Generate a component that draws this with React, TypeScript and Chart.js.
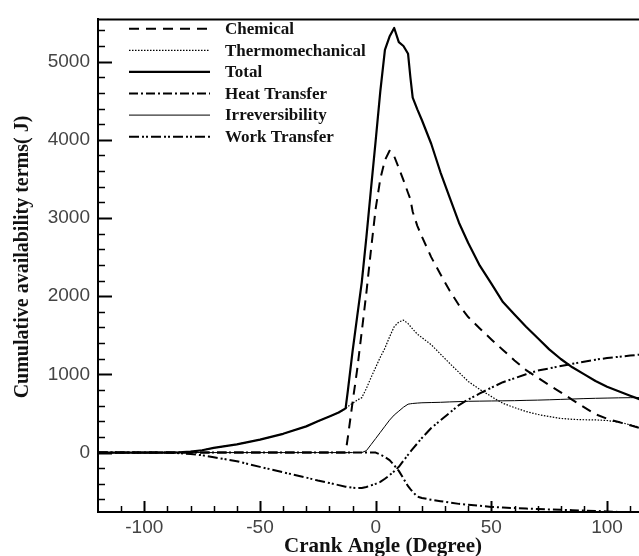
import React, { useEffect, useRef } from "react";
import { Chart, registerables } from "chart.js";

Chart.register(...registerables);

// Crank angle samples (degrees) shared by every series
const crankAngle = [
  -120, -100, -90, -85, -80, -75, -70, -60, -50, -40,
  -30, -25, -20, -16, -13, -12, -10, -8, -6, -4,
  -2, 0, 2, 4, 6, 8, 10, 12, 14, 15,
  16, 18, 20, 24, 28, 32, 36, 40, 45, 50,
  55, 60, 65, 70, 75, 80, 85, 90, 95, 100,
  105, 110, 114,
];

// Cumulative availability terms (J)
const chemical = [
  0, 0, 0, 0, 0, 0, 0, 0, 0, 0,
  0, 0, 0, 0, 0, 200, 640, 1060, 1550, 2050,
  2600, 3120, 3500, 3740, 3860, 3790, 3640, 3484, 3320, 3240,
  3080, 2900, 2760, 2500, 2280, 2070, 1885, 1733, 1587, 1447,
  1312, 1178, 1055, 958, 863, 770, 675, 582, 490, 432,
  390, 350, 315,
];

const thermomechanical = [
  0, 0, 0, 3, 12, 30, 60, 105, 165, 240,
  335, 400, 462, 512, 560, 590, 630, 670, 703, 820,
  960, 1090, 1220, 1335, 1480, 1610, 1670, 1694, 1650, 1615,
  1580, 1515, 1470, 1380, 1260, 1140, 1025, 910, 807, 717,
  630, 575, 525, 488, 460, 437, 425, 420, 418, 410,
  390, 355, 324,
];

const total = [
  0, 0, 0, 3, 12, 30, 60, 105, 165, 240,
  335, 400, 462, 512, 565, 795, 1290, 1740, 2180, 2760,
  3380, 3990, 4620, 5150, 5320, 5430, 5250, 5200, 5100, 4800,
  4540, 4390, 4250, 3950, 3585, 3260, 2940, 2680, 2390, 2160,
  1925, 1765, 1610, 1465, 1320, 1197, 1091, 1003, 915, 842,
  785, 728, 683,
];

const heatTransfer = [
  0, 0, 0, 0, 0, 0, 0, 0, 0, 0,
  0, 0, 0, 0, 0, 0, 0, 0, 0, 0,
  0, 0, -26, -56, -96, -163, -234, -332, -430, -467,
  -502, -563, -580, -604, -622, -639, -656, -667, -680, -696,
  -703, -710, -716, -722, -727, -732, -737, -742, -747, -752,
  -760, -768, -775,
];

const irreversibility = [
  0, 0, 0, 0, 0, 0, 0, 0, 0, 0,
  0, 0, 0, 0, 0, 0, 0, 0, 0, 25,
  102, 180, 258, 337, 415, 480, 530, 580, 619, 624,
  628, 633, 637, 640, 643, 648, 652, 656, 658, 660,
  662, 664, 668, 671, 675, 680, 685, 690, 694, 697,
  700, 702, 703,
];

const workTransfer = [
  0, 0, 0, -8, -18, -34, -60, -110, -183, -252,
  -320, -358, -389, -416, -436, -442, -450, -455, -452, -440,
  -420, -400, -375, -335, -290, -240, -182, -105, -28, 10,
  47, 117, 187, 314, 412, 510, 608, 678, 756, 830,
  900, 951, 1002, 1048, 1077, 1107, 1135, 1162, 1188, 1209,
  1225, 1240, 1252,
];

const xTickLabels = [-100, -50, 0, 50, 100];
const yTickLabels = [0, 1000, 2000, 3000, 4000, 5000];

const xTitle = "Crank Angle (Degree)";
const yTitle = "Cumulative availability terms( J)";

const seriesStyles = [
  { label: "Chemical", values: chemical, width: 2, dash: [10, 7] },
  { label: "Thermomechanical", values: thermomechanical, width: 1.2, dash: [1.5, 1.5] },
  { label: "Total", values: total, width: 2.2, dash: [] },
  { label: "Heat Transfer", values: heatTransfer, width: 2, dash: [9, 3, 2, 3] },
  { label: "Irreversibility", values: irreversibility, width: 1, dash: [] },
  { label: "Work Transfer", values: workTransfer, width: 2, dash: [10, 3, 2, 2, 2, 3] },
];

const legendFont = "bold 17px 'Liberation Serif', 'Times New Roman', serif";

// Frame line on top, inward major/minor tick marks
const framePlugin = {
  id: "frame",
  afterDatasetsDraw(chart: any) {
    const { ctx, chartArea: a, scales } = chart;
    const xs = scales.x;
    const ys = scales.y;
    ctx.save();
    ctx.strokeStyle = "#000";
    ctx.lineCap = "butt";
    ctx.setLineDash([]);
    const seg = (x1: number, y1: number, x2: number, y2: number) => {
      ctx.beginPath();
      ctx.moveTo(x1, y1);
      ctx.lineTo(x2, y2);
      ctx.stroke();
    };
    ctx.lineWidth = 2;
    seg(a.left - 1, a.top, a.right, a.top);

    // y ticks
    for (let v = -600; v <= 5400; v += 200) {
      const py = Math.round(ys.getPixelForValue(v)) + 0.5;
      const major = yTickLabels.includes(v);
      ctx.lineWidth = major ? 2 : 1.5;
      seg(a.left, py, a.left + (major ? 14 : 7), py);
    }
    // x ticks
    for (let v = -110; v <= 110; v += 10) {
      const px = Math.round(xs.getPixelForValue(v)) + 0.5;
      const major = xTickLabels.includes(v);
      ctx.lineWidth = major ? 2 : 1.5;
      seg(px, a.bottom, px, a.bottom - (major ? 11 : 6));
    }
    ctx.restore();
  },
};

// Legend drawn inside the plot, upper left
const legendPlugin = {
  id: "innerLegend",
  afterDatasetsDraw(chart: any) {
    const { ctx } = chart;
    ctx.save();
    const x0 = 129;
    const x1 = 210;
    const tx = 225;
    let yy = 28.7;
    chart.data.datasets.forEach((ds: any) => {
      ctx.strokeStyle = ds.borderColor;
      ctx.lineWidth = ds.borderWidth;
      ctx.setLineDash(ds.borderDash || []);
      ctx.beginPath();
      ctx.moveTo(x0, yy);
      ctx.lineTo(x1, yy);
      ctx.stroke();
      ctx.setLineDash([]);
      ctx.fillStyle = "#111";
      ctx.font = legendFont;
      ctx.textAlign = "left";
      ctx.textBaseline = "middle";
      ctx.fillText(ds.label, tx, yy + 1);
      yy += 21.6;
    });
    ctx.restore();
  },
};

// Axis titles
const titlesPlugin = {
  id: "axisTitles",
  afterDraw(chart: any) {
    const { ctx } = chart;
    ctx.save();
    ctx.fillStyle = "#111";
    ctx.textAlign = "center";
    ctx.textBaseline = "alphabetic";
    ctx.font = "bold 21px 'Liberation Serif', 'Times New Roman', serif";
    ctx.fillText(xTitle, 383, 552);
    ctx.font = "bold 20px 'Liberation Serif', 'Times New Roman', serif";
    ctx.translate(28, 257);
    ctx.rotate(-Math.PI / 2);
    ctx.fillText(yTitle, 0, 0);
    ctx.restore();
  },
};

export default function App() {
  const canvasRef = useRef<HTMLCanvasElement | null>(null);

  useEffect(() => {
    const canvas = canvasRef.current;
    if (!canvas) return;

    const chart = new Chart(canvas, {
      type: "line",
      data: {
        datasets: seriesStyles.map((s) => ({
          label: s.label,
          data: crankAngle.map((a, i) => ({ x: a, y: s.values[i] })),
          borderColor: "#000",
          borderWidth: s.width,
          borderDash: s.dash,
          pointRadius: 0,
          tension: 0,
          fill: false,
          borderJoinStyle: "round" as const,
        })),
      },
      options: {
        animation: false,
        responsive: false,
        maintainAspectRatio: false,
        devicePixelRatio: 1,
        layout: { padding: { top: 14, left: 0, right: 0, bottom: 0 } },
        plugins: {
          legend: { display: false },
          tooltip: { enabled: false },
          title: { display: false },
        },
        scales: {
          x: {
            type: "linear",
            min: -120,
            max: 113.8,
            grid: { display: false, drawTicks: false, tickLength: 0 },
            border: { display: true, color: "#000", width: 2 },
            afterBuildTicks: (scale: any) => {
              scale.ticks = xTickLabels.map((v) => ({ value: v }));
            },
            afterFit: (scale: any) => {
              scale.height = 44;
            },
            ticks: {
              color: "#444",
              padding: 4,
              maxRotation: 0,
              font: { family: "'Liberation Sans', Arial, sans-serif", size: 19 },
              callback: (v: any) => String(v),
            },
          },
          y: {
            type: "linear",
            min: -760,
            max: 5540,
            grid: { display: false, drawTicks: false, tickLength: 0 },
            border: { display: true, color: "#000", width: 2 },
            afterBuildTicks: (scale: any) => {
              scale.ticks = yTickLabels.map((v) => ({ value: v }));
            },
            afterFit: (scale: any) => {
              scale.width = 98;
            },
            ticks: {
              color: "#444",
              padding: 8,
              font: { family: "'Liberation Sans', Arial, sans-serif", size: 19 },
              callback: (v: any) => String(v),
            },
          },
        },
      },
      plugins: [framePlugin, legendPlugin, titlesPlugin],
    });

    return () => chart.destroy();
  }, []);

  return (
    <div style={{ position: "fixed", left: 0, top: 0, width: 639, height: 556, background: "#fff" }}>
      <canvas ref={canvasRef} width={639} height={556} style={{ display: "block" }} />
    </div>
  );
}
